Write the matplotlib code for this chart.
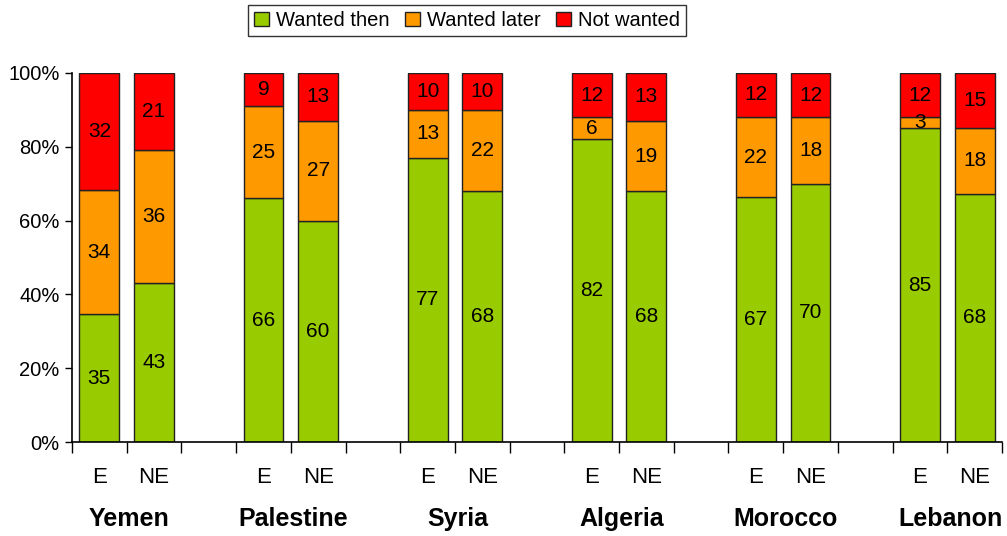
import numpy as np
import matplotlib
matplotlib.use('Agg')
import matplotlib.pyplot as plt

plt.rcParams['font.family'] = ['Liberation Sans', 'DejaVu Sans']

countries = ['Yemen', 'Palestine', 'Syria', 'Algeria', 'Morocco', 'Lebanon']
subgroups = ['E', 'NE']
series = ['Wanted then', 'Wanted later', 'Not wanted']
colors = ['#99CC00', '#FF9900', '#FF0000']

# per bar, in order Yemen E, Yemen NE, Palestine E, ...
wanted_then = [35, 43, 66, 60, 77, 68, 82, 68, 67, 70, 85, 68]
wanted_later = [34, 36, 25, 27, 13, 22, 6, 19, 22, 18, 3, 18]
not_wanted = [32, 21, 9, 13, 10, 10, 12, 13, 12, 12, 12, 15]

values = np.array([wanted_then, wanted_later, not_wanted], dtype=float)
shares = values / values.sum(axis=0) * 100

# two bars per country, one empty slot between countries
xpos = np.array([3 * (i // 2) + (i % 2) for i in range(len(wanted_then))])

fig = plt.figure(figsize=(10.07, 5.36), dpi=100)
ax = fig.add_axes([72 / 1007, 1 - 442 / 536, 930 / 1007, 369 / 536])

bottom = np.zeros(len(xpos))
handles = []
for k in range(3):
    b = ax.bar(xpos, shares[k], 0.73, bottom=bottom, color=colors[k],
               edgecolor='#222222', linewidth=1.0, label=series[k])
    handles.append(b)
    for x, h, y0, v in zip(xpos, shares[k], bottom, values[k]):
        ax.text(x, y0 + h / 2, '%d' % v, ha='center', va='center', fontsize=15)
    bottom += shares[k]

ax.set_xlim(-0.5, 16.5)
ax.set_ylim(0, 100)
ax.set_yticks(np.arange(0, 101, 20))
ax.set_yticklabels(['%d%%' % t for t in range(0, 101, 20)], fontsize=14.5)
ax.tick_params(axis='y', length=5, width=1, direction='out', pad=4)

# tick marks at slot boundaries, labels placed by hand below
ax.set_xticks(np.arange(-0.5, 17, 1))
ax.set_xticklabels([])
ax.tick_params(axis='x', length=8, width=1, direction='out')

for spine in ['top', 'right']:
    ax.spines[spine].set_visible(False)
for spine in ['left', 'bottom']:
    ax.spines[spine].set_linewidth(1.2)

trans = ax.get_xaxis_transform()
for i, x in enumerate(xpos):
    ax.text(x, -0.095, subgroups[i % 2], transform=trans, ha='center', va='center',
            fontsize=16)
for j, c in enumerate(countries):
    ax.text(3 * j + 0.55, -0.21, c, transform=trans, ha='center', va='center',
            fontsize=18, fontweight='bold')

leg = fig.legend(handles=handles, loc='upper center', bbox_to_anchor=(467 / 1007, 1 - 5 / 536),
                 ncol=3, fontsize=14.5, frameon=True, fancybox=False, edgecolor='black',
                 handlelength=0.75, handleheight=0.75, handletextpad=0.35, columnspacing=0.75,
                 borderpad=0.3, borderaxespad=0)
leg.get_frame().set_linewidth(1.0)

fig.savefig('out.png', dpi=100)
